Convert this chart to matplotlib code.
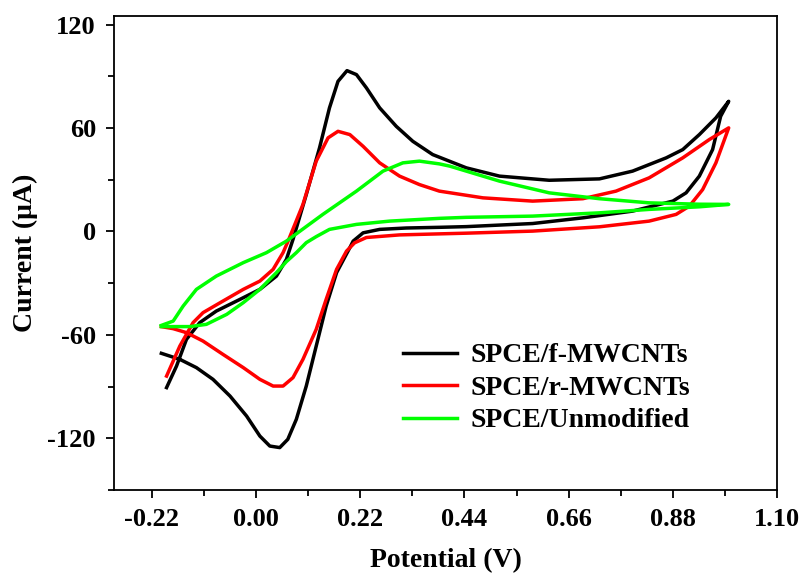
import matplotlib
matplotlib.use("Agg")
from matplotlib import pyplot as plt
from matplotlib.ticker import MultipleLocator

# SPCE/f-MWCNTs (black), one pass round the loop
f_x = [-0.189, -0.168, -0.147, -0.119, -0.084, -0.034, 0.008, 0.043, 0.064, 0.078,
       0.106, 0.134, 0.155, 0.173, 0.192, 0.212, 0.233, 0.261, 0.296, 0.331, 0.373,
       0.444, 0.514, 0.619, 0.725, 0.795, 0.866, 0.901, 0.936, 0.971, 0.998,
       0.981, 0.964, 0.936, 0.908, 0.880, 0.795, 0.690, 0.584, 0.444, 0.387, 0.317,
       0.261, 0.226, 0.205, 0.198, 0.170, 0.148, 0.127, 0.106, 0.085, 0.067, 0.050,
       0.029, 0.008, -0.020, -0.055, -0.091, -0.126, -0.161, -0.200]
f_y = [-90.6, -78.1, -62.6, -52.9, -46.2, -39.4, -33.6, -25.9, -16.2, -4.6,
       21.4, 48.5, 71.7, 87.1, 93.3, 91.0, 83.3, 71.7, 61.0, 52.3, 44.6,
       36.9, 32.1, 29.7, 30.5, 35.0, 42.7, 47.5, 56.2, 65.9, 75.5,
       66.8, 47.5, 32.1, 22.4, 17.6, 11.8, 7.9, 4.6, 2.8, 2.4, 2.0,
       1.2, -0.8, -5.6, -9.4, -23.9, -43.3, -66.5, -89.7, -109.0, -120.6, -125.4,
       -124.5, -118.7, -107.1, -95.5, -85.8, -79.0, -74.2, -70.7]

# SPCE/r-MWCNTs (red)
r_x = [-0.189, -0.161, -0.133, -0.112, -0.070, -0.027, 0.008, 0.036, 0.057, 0.067,
       0.099, 0.127, 0.152, 0.173, 0.198, 0.226, 0.261, 0.303, 0.345, 0.387,
       0.479, 0.584, 0.690, 0.760, 0.830, 0.901, 0.957, 0.998,
       0.989, 0.971, 0.943, 0.915, 0.887, 0.830, 0.725, 0.584, 0.444, 0.387, 0.303,
       0.233, 0.208, 0.191, 0.170, 0.148, 0.127, 0.099, 0.078, 0.057, 0.036, 0.008,
       -0.027, -0.070, -0.112, -0.147, -0.175, -0.200]
r_y = [-83.9, -66.5, -52.9, -47.1, -40.4, -33.6, -28.8, -22.0, -12.3, -6.0,
       15.7, 40.8, 54.3, 58.1, 56.2, 49.4, 39.8, 32.1, 27.2, 23.4,
       19.5, 17.6, 19.0, 23.4, 31.1, 42.7, 53.3, 60.1,
       53.3, 39.8, 24.3, 14.7, 9.9, 6.0, 2.7, 0.2, -1.0, -1.4, -2.0,
       -3.5, -6.6, -11.4, -22.0, -39.4, -56.8, -74.2, -84.8, -89.7, -89.7, -85.8,
       -79.0, -71.3, -63.6, -58.7, -56.4, -55.2]

# SPCE/Unmodified (green)
u_x = [-0.200, -0.175, -0.154, -0.126, -0.084, -0.027, 0.022, 0.064, 0.141, 0.212,
       0.268, 0.310, 0.345, 0.387, 0.409, 0.514, 0.619, 0.725, 0.830, 0.936, 0.998,
       0.936, 0.830, 0.725, 0.584, 0.444, 0.387, 0.282, 0.212, 0.155, 0.127, 0.106,
       0.085, 0.064, 0.043, 0.008, -0.027, -0.062, -0.105, -0.140, -0.182, -0.200]
u_y = [-54.5, -52.0, -43.3, -33.6, -25.9, -18.1, -12.3, -5.6, 9.9, 23.4,
       35.0, 39.8, 40.8, 39.2, 37.9, 29.2, 22.4, 19.0, 16.6, 15.8, 15.7,
       14.3, 12.8, 10.8, 8.9, 8.2, 7.6, 6.0, 4.1, 1.2, -3.0, -6.5,
       -12.3, -17.5, -23.9, -33.6, -41.3, -48.1, -53.9, -55.2, -55.2, -55.2]

labels = ["SPCE/f-MWCNTs", "SPCE/r-MWCNTs", "SPCE/Unmodified"]
colors = ["#000000", "#ff0000", "#00ff00"]
x_ticks = [-0.22, 0.00, 0.22, 0.44, 0.66, 0.88, 1.10]
y_ticks = [-120, -60, 0, 60, 120]

plt.rcParams["font.family"] = ["Liberation Serif", "DejaVu Serif"]
plt.rcParams["font.weight"] = "bold"
plt.rcParams["font.size"] = 19
plt.rcParams["axes.unicode_minus"] = False

fig = plt.figure(figsize=(8.01, 5.74), dpi=100)
ax = fig.add_axes([114 / 801, 1 - 490 / 574, 663 / 801, 474 / 574])

for xs, ys, c, lab in zip([f_x, r_x, u_x], [f_y, r_y, u_y], colors, labels):
    ax.plot(xs, ys, color=c, lw=2.5, label=lab, solid_joinstyle="round")

ax.set_xlim(-0.30, 1.10)
ax.set_ylim(-150, 125)
ax.set_xticks(x_ticks)
ax.set_xticklabels([f"{v:.2f}" for v in x_ticks])
ax.set_yticks(y_ticks)
ax.xaxis.set_minor_locator(MultipleLocator(0.11))
ax.yaxis.set_minor_locator(MultipleLocator(30))
ax.tick_params(which="major", direction="out", length=6, width=1.3, pad=7)
ax.tick_params(which="minor", direction="out", length=4, width=1.3)
for s in ax.spines.values():
    s.set_linewidth(1.3)

ax.set_xlabel("Potential (V)", fontsize=20, fontweight="bold", labelpad=12)
ax.set_ylabel("Current (\u03bcA)", fontsize=20, fontweight="bold", labelpad=7)

ax.legend(loc="upper left", bbox_to_anchor=(403 / 801, 1 - 343 / 574),
          bbox_transform=fig.transFigure, frameon=False, borderpad=0,
          borderaxespad=0, handlelength=1.95, handletextpad=0.47,
          labelspacing=0.25, fontsize=20)

fig.savefig("out.png", dpi=100)
